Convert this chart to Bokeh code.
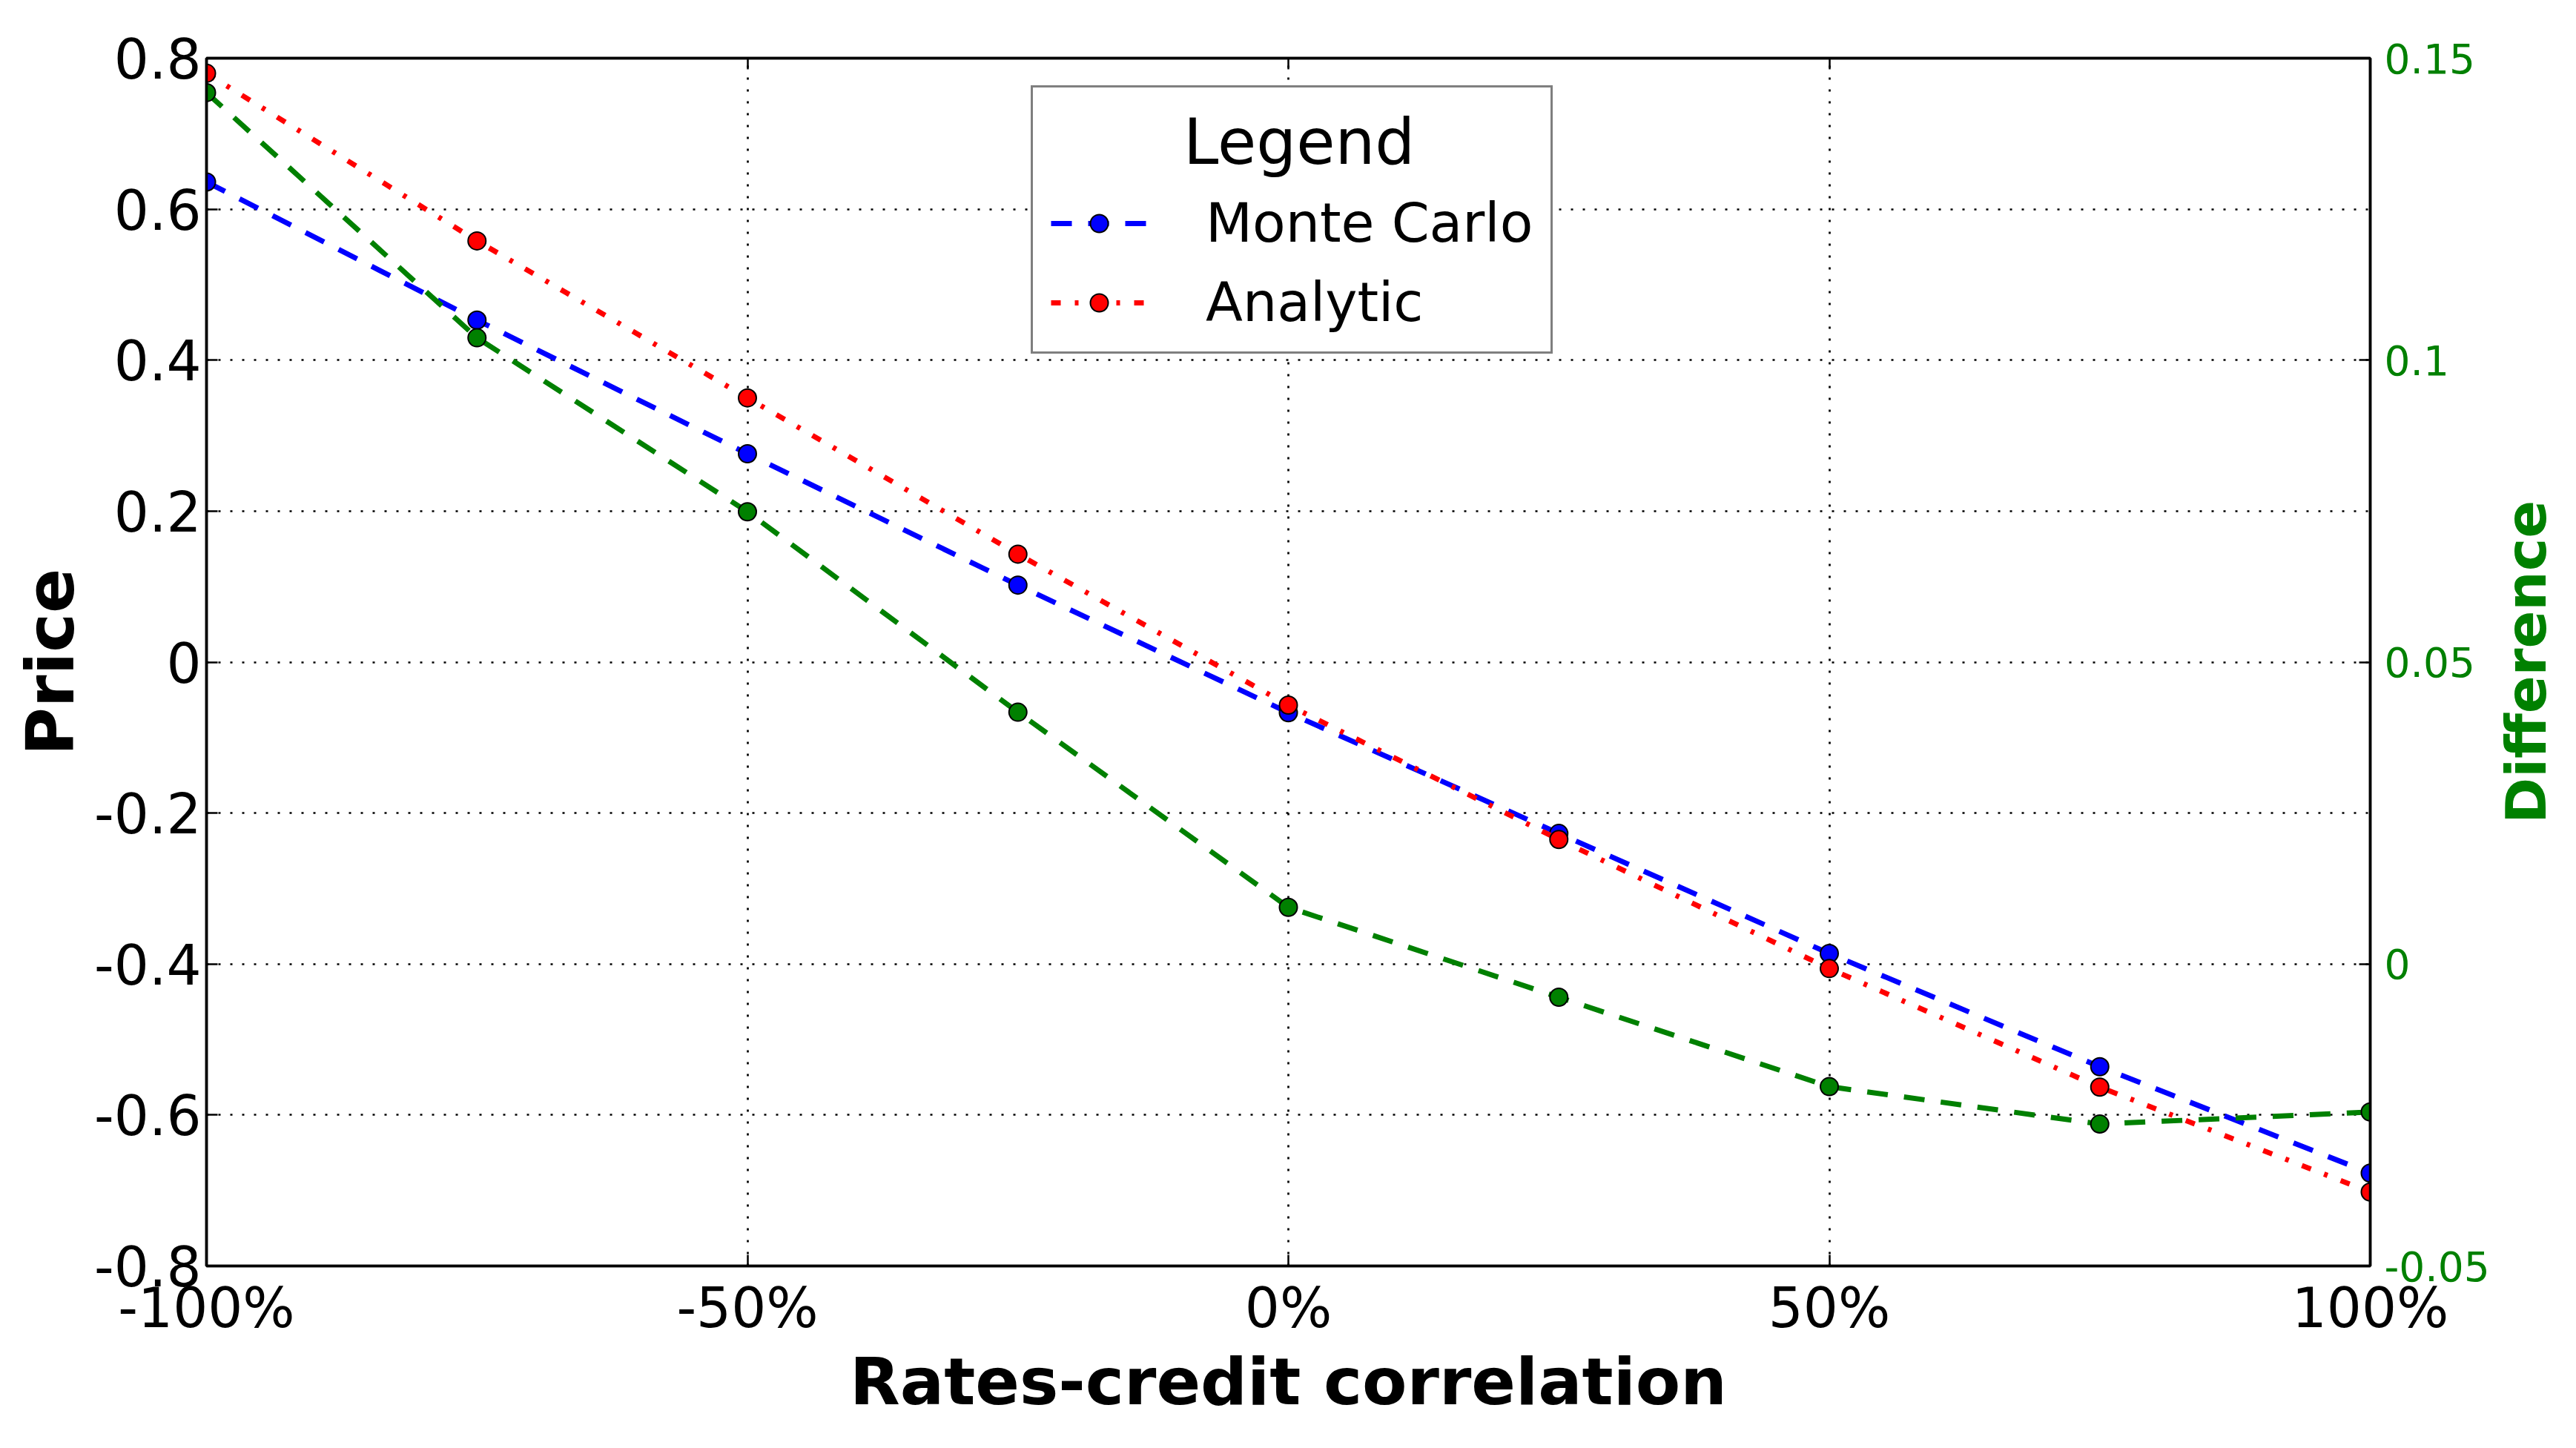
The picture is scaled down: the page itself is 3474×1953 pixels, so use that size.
import math
from bokeh.plotting import figure
from bokeh.layouts import row
from bokeh.models import (Range1d, LinearAxis, FixedTicker, NumeralTickFormatter,
                          CustomJSTickFormatter, Legend, LegendItem)
from bokeh.core.properties import value
from bokeh.embed import file_html
from bokeh.resources import INLINE

# ---- data ----
correlation = [-1.0, -0.75, -0.5, -0.25, 0.0, 0.25, 0.5, 0.75, 1.0]
monte_carlo = [0.636, 0.453, 0.276, 0.102, -0.067, -0.227, -0.386, -0.536, -0.677]
analytic = [0.780, 0.558, 0.350, 0.143, -0.057, -0.235, -0.406, -0.563, -0.702]
difference = [0.1443, 0.1037, 0.0749, 0.0417, 0.0094, -0.0055, -0.0203, -0.0265, -0.0245]

x_ticks = [-1.0, -0.5, 0.0, 0.5, 1.0]
price_ticks = [-0.8, -0.6, -0.4, -0.2, 0.0, 0.2, 0.4, 0.6, 0.8]
diff_ticks = [-0.05, 0.0, 0.05, 0.1, 0.15]
diff_range = (-0.05, 0.15)

FONT = "DejaVu Sans"
BLUE, RED, GREEN = "#0000ff", "#ff0000", "#008000"

TOTAL_W, H = 3458, 1930
MAIN_W = 3360
TOP, BOTTOM = 78, 223
p = figure(width=MAIN_W, height=H, output_backend="svg", toolbar_location=None,
           x_range=Range1d(-1.0, 1.0), y_range=Range1d(-0.8, 0.8),
           min_border_left=278, min_border_right=MAIN_W - 3196, min_border_top=TOP,
           min_border_bottom=BOTTOM)
p.extra_y_ranges = {"diff": Range1d(*diff_range)}
p.background_fill_color = "white"
p.border_fill_color = "white"
p.outline_line_color = "black"
p.outline_line_width = 3.5

# bottom axis
xa = p.xaxis[0]
xa.ticker = FixedTicker(ticks=x_ticks)
xa.formatter = NumeralTickFormatter(format="0%")
xa.axis_label = "Rates-credit correlation"
# left axis
ya = p.yaxis[0]
ya.ticker = FixedTicker(ticks=price_ticks)
ya.formatter = CustomJSTickFormatter(code="return String(Math.round(tick*100)/100)")
ya.axis_label = "Price"

# right axis (its title is drawn in the narrow side figure)
ra = LinearAxis(y_range_name="diff", ticker=FixedTicker(ticks=diff_ticks),
                formatter=CustomJSTickFormatter(code="return String(Math.round(tick*100)/100)"))
p.add_layout(ra, "right")
# top axis (ticks only)
ta = LinearAxis(ticker=FixedTicker(ticks=x_ticks))
p.add_layout(ta, "above")

for ax in (xa, ya, ra, ta):
    ax.axis_line_color = "black"
    ax.axis_line_width = 3.5
    ax.major_tick_in = 15
    ax.major_tick_out = 0
    ax.major_tick_line_color = "black"
    ax.major_tick_line_width = 2.5
    ax.minor_tick_line_color = None
    ax.major_label_text_font = FONT
    ax.major_label_text_font_size = "74px"
    ax.major_label_text_color = "black"
    ax.axis_label_text_font = FONT
    ax.axis_label_text_font_style = "bold"
    ax.axis_label_text_color = "black"

xa.axis_label_text_font_size = "88px"
xa.major_label_standoff = 13
xa.axis_label_standoff = 2
ya.axis_label_text_font_size = "89px"
ya.major_label_standoff = 7
ya.axis_label_standoff = 4

ra.major_label_text_font_size = "55px"
ra.major_label_text_color = GREEN
ra.major_label_standoff = 19

ta.major_label_text_color = None
ta.major_label_text_font_size = "1px"
ta.axis_label = None

# grids
for g in (p.xgrid[0], p.ygrid[0]):
    g.grid_line_color = "black"
    g.grid_line_width = 2.7
    g.grid_line_dash = "3 13"

# series
mc_line = p.line(correlation, monte_carlo, line_color=BLUE, line_width=7, line_dash="28 22")
mc_pts = p.scatter(correlation, monte_carlo, size=24, fill_color=BLUE,
                   line_color="black", line_width=2)
an_line = p.line(correlation, analytic, line_color=RED, line_width=7, line_dash="13 19 5 19")
an_pts = p.scatter(correlation, analytic, size=24, fill_color=RED,
                   line_color="black", line_width=2)
df_line = p.line(correlation, difference, y_range_name="diff", line_color=GREEN,
                 line_width=7, line_dash="28 22")
df_pts = p.scatter(correlation, difference, y_range_name="diff", size=24,
                   fill_color=GREEN, line_color="black", line_width=2)

NBSP = "\u00a0"
THIN = "\u2009"
legend = Legend(
    items=[LegendItem(label="Monte Carlo", renderers=[mc_line, mc_pts]),
           LegendItem(label="Analytic", renderers=[an_line, an_pts])],
    location=(1112, 1230), title=NBSP * 6 + THIN + "Legend", title_text_font=FONT,
    title_text_font_size="85px", title_standoff=17,
    padding=24, spacing=22, margin=0,
    glyph_width=130, glyph_height=60, label_height=60, label_standoff=79,
    label_text_font=FONT, label_text_font_size="73px", label_text_color="black",
    title_text_color="black", title_text_font_style="normal",
    border_line_color="black", border_line_width=3.5,
    background_fill_color="white", background_fill_alpha=1.0)
p.add_layout(legend, "center")

# narrow side figure carrying the right-hand axis title
side_w = TOTAL_W - MAIN_W
s = figure(width=side_w, height=H, output_backend="svg", toolbar_location=None,
           x_range=Range1d(0, side_w), y_range=Range1d(*diff_range),
           x_axis_type=None, y_axis_type=None,
           min_border_left=0, min_border_right=0, min_border_top=TOP,
           min_border_bottom=BOTTOM)
s.outline_line_color = None
s.background_fill_color = "white"
s.border_fill_color = "white"
s.text(x=[46], y=[sum(diff_range) / 2], text=["Difference"], angle=math.pi / 2,
       text_align="center", text_baseline="middle", text_font=value(FONT),
       text_font_style="bold", text_font_size="75px", text_color=GREEN)

layout = row(p, s)
with open("out.html", "w") as f:
    f.write(file_html(layout, INLINE))
